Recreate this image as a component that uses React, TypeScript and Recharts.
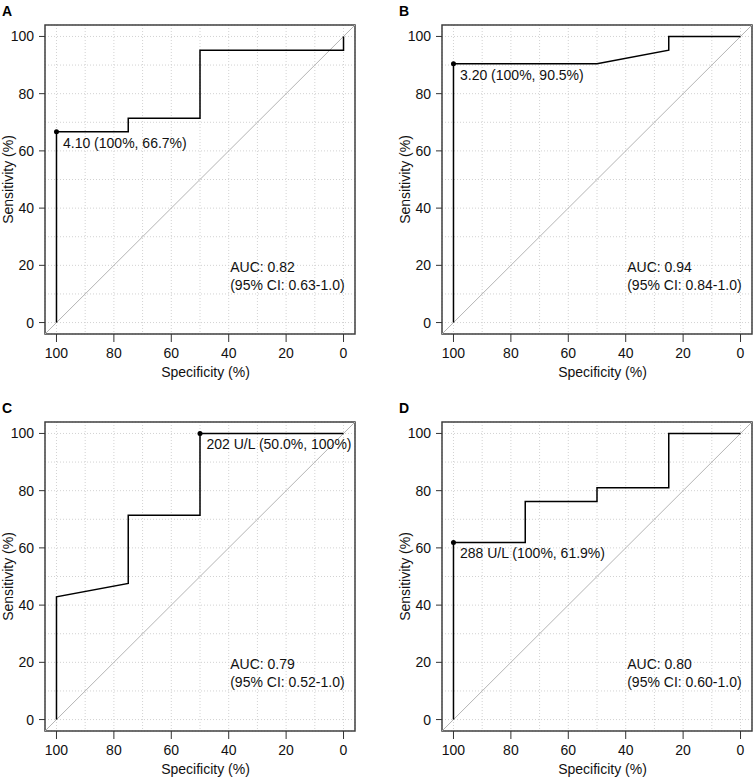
import React from 'react';
import {
  LineChart,
  Line,
  XAxis,
  YAxis,
  CartesianGrid,
  ReferenceLine,
  ReferenceDot,
  ReferenceArea,
} from 'recharts';

const FONT = '"Liberation Sans", Arial, Helvetica, sans-serif';

// ROC curves: specificity (%) and sensitivity (%) at each step
const specA = [100, 100, 75, 75, 50, 50, 0, 0];
const sensA = [0, 66.7, 66.7, 71.4, 71.4, 95.2, 95.2, 100];
const specB = [100, 100, 50, 25, 25, 0];
const sensB = [0, 90.5, 90.5, 95.2, 100, 100];
const specC = [100, 100, 75, 75, 50, 50, 0];
const sensC = [0, 42.9, 47.6, 71.4, 71.4, 100, 100];
const specD = [100, 100, 75, 75, 50, 50, 25, 25, 0];
const sensD = [0, 61.9, 61.9, 76.2, 76.2, 81.0, 81.0, 100, 100];

// best threshold of each curve
const bestSpec = [100, 100, 50, 100];
const bestSens = [66.7, 90.5, 100, 61.9];
const bestLabels = ['4.10 (100%, 66.7%)', '3.20 (100%, 90.5%)', '202 U/L (50.0%, 100%)', '288 U/L (100%, 61.9%)'];

const aucLabels = ['AUC: 0.82', 'AUC: 0.94', 'AUC: 0.79', 'AUC: 0.80'];
const ciLabels = ['(95% CI: 0.63-1.0)', '(95% CI: 0.84-1.0)', '(95% CI: 0.52-1.0)', '(95% CI: 0.60-1.0)'];
const panelIds = ['A', 'B', 'C', 'D'];

const axisTicks = [0, 20, 40, 60, 80, 100];
const gridTicks = [0, 10, 20, 30, 40, 50, 60, 70, 80, 90, 100];
const axisDomain = [-4, 104];
const aucPos = { spec: 40, sens: 20 };

const curves = [
  [specA, sensA],
  [specB, sensB],
  [specC, sensC],
  [specD, sensD],
];

const PANEL_W = 376;
const PANEL_H = 390;
const PANEL_STEP = 397;

const tickStyle = { fill: '#111', fontSize: 14, fontFamily: FONT };

const RocPanel = ({ index }: { index: number }) => {
  const [spec, sens] = curves[index];
  const curve = spec.map((s, i) => ({ spec: s, sens: sens[i] }));
  const left = (index % 2) * PANEL_STEP;
  const top = Math.floor(index / 2) * PANEL_STEP;

  return (
    <div style={{ position: 'absolute', left, top, width: PANEL_W, height: PANEL_H }}>
      <div
        style={{
          position: 'absolute',
          left: 2,
          top: 4,
          fontFamily: FONT,
          fontWeight: 'bold',
          fontSize: 14,
          lineHeight: '14px',
          color: '#000',
        }}
      >
        {panelIds[index]}
      </div>
      <LineChart
        width={PANEL_W}
        height={PANEL_H}
        margin={{ top: 25, right: 21, bottom: 16, left: 8 }}
      >
        <XAxis
          xAxisId="grid"
          type="number"
          dataKey="spec"
          domain={axisDomain}
          ticks={gridTicks}
          reversed
          hide
          allowDataOverflow
        />
        <YAxis
          yAxisId="grid"
          type="number"
          domain={axisDomain}
          ticks={gridTicks}
          hide
          allowDataOverflow
        />
        <CartesianGrid xAxisId="grid" yAxisId="grid" stroke="#d2d2d2" strokeDasharray="1 2" />
        <XAxis
          type="number"
          dataKey="spec"
          domain={axisDomain}
          ticks={axisTicks}
          interval={0}
          reversed
          allowDataOverflow
          height={40}
          tickSize={8}
          tickMargin={6}
          axisLine={false}
          tickLine={{ stroke: '#333' }}
          tick={tickStyle}
          label={(p: any) => {
            const vb = p.viewBox;
            return (
              <text
                x={vb.x + vb.width / 2 + 5.5}
                y={vb.y + 38}
                dy="0.35em"
                textAnchor="middle"
                fontSize={14}
                fontFamily={FONT}
                fill="#111"
              >
                Specificity (%)
              </text>
            );
          }}
        />
        <YAxis
          type="number"
          domain={axisDomain}
          ticks={axisTicks}
          interval={0}
          allowDataOverflow
          width={37}
          tickSize={6}
          tickMargin={5}
          axisLine={false}
          tickLine={{ stroke: '#333' }}
          tick={tickStyle}
          label={(p: any) => {
            const vb = p.viewBox;
            const cx = vb.x + 0.5;
            const cy = vb.y + vb.height / 2;
            return (
              <text
                x={cx}
                y={cy}
                dy="0.35em"
                textAnchor="middle"
                transform={`rotate(-90, ${cx}, ${cy})`}
                fontSize={14}
                fontFamily={FONT}
                fill="#111"
              >
                Sensitivity (%)
              </text>
            );
          }}
        />
        <ReferenceLine
          segment={[
            { x: axisDomain[1], y: axisDomain[0] },
            { x: axisDomain[0], y: axisDomain[1] },
          ]}
          stroke="#b4b4b4"
          strokeWidth={1}
          ifOverflow="visible"
        />
        <Line
          data={curve}
          dataKey="sens"
          type="linear"
          stroke="#000"
          strokeWidth={1.5}
          dot={false}
          activeDot={false}
          isAnimationActive={false}
        />
        <ReferenceDot
          x={bestSpec[index]}
          y={bestSens[index]}
          r={2.5}
          fill="#000"
          stroke="none"
          ifOverflow="visible"
          label={(p: any) => {
            const vb = p.viewBox;
            const cx = vb.x + (vb.width || 0) / 2;
            const cy = vb.y + (vb.height || 0) / 2;
            return (
              <text
                x={cx + 6.5}
                y={cy + 11}
                dy="0.35em"
                fontSize={14}
                fontFamily={FONT}
                fill="#111"
              >
                {bestLabels[index]}
              </text>
            );
          }}
        />
        <ReferenceDot
          x={aucPos.spec}
          y={aucPos.sens}
          r={1}
          fill="none"
          stroke="none"
          ifOverflow="visible"
          label={(p: any) => {
            const vb = p.viewBox;
            const cx = vb.x + (vb.width || 0) / 2;
            const cy = vb.y + (vb.height || 0) / 2;
            return (
              <text x={cx + 1.5} y={cy} fontSize={14} fontFamily={FONT} fill="#111">
                <tspan x={cx + 1.5} y={cy + 1.5} dy="0.35em">
                  {aucLabels[index]}
                </tspan>
                <tspan x={cx + 1.5} y={cy + 19.5} dy="0.35em">
                  {ciLabels[index]}
                </tspan>
              </text>
            );
          }}
        />
        <ReferenceArea
          x1={axisDomain[0]}
          x2={axisDomain[1]}
          y1={axisDomain[0]}
          y2={axisDomain[1]}
          fill="none"
          fillOpacity={0}
          stroke="#404040"
          strokeWidth={1.5}
          ifOverflow="visible"
        />
      </LineChart>
    </div>
  );
};

export default function App() {
  return (
    <div
      style={{
        position: 'absolute',
        left: 0,
        top: 0,
        width: 753,
        height: 778,
        overflow: 'hidden',
        background: '#fff',
      }}
    >
      {panelIds.map((id, i) => (
        <RocPanel key={id} index={i} />
      ))}
    </div>
  );
}
